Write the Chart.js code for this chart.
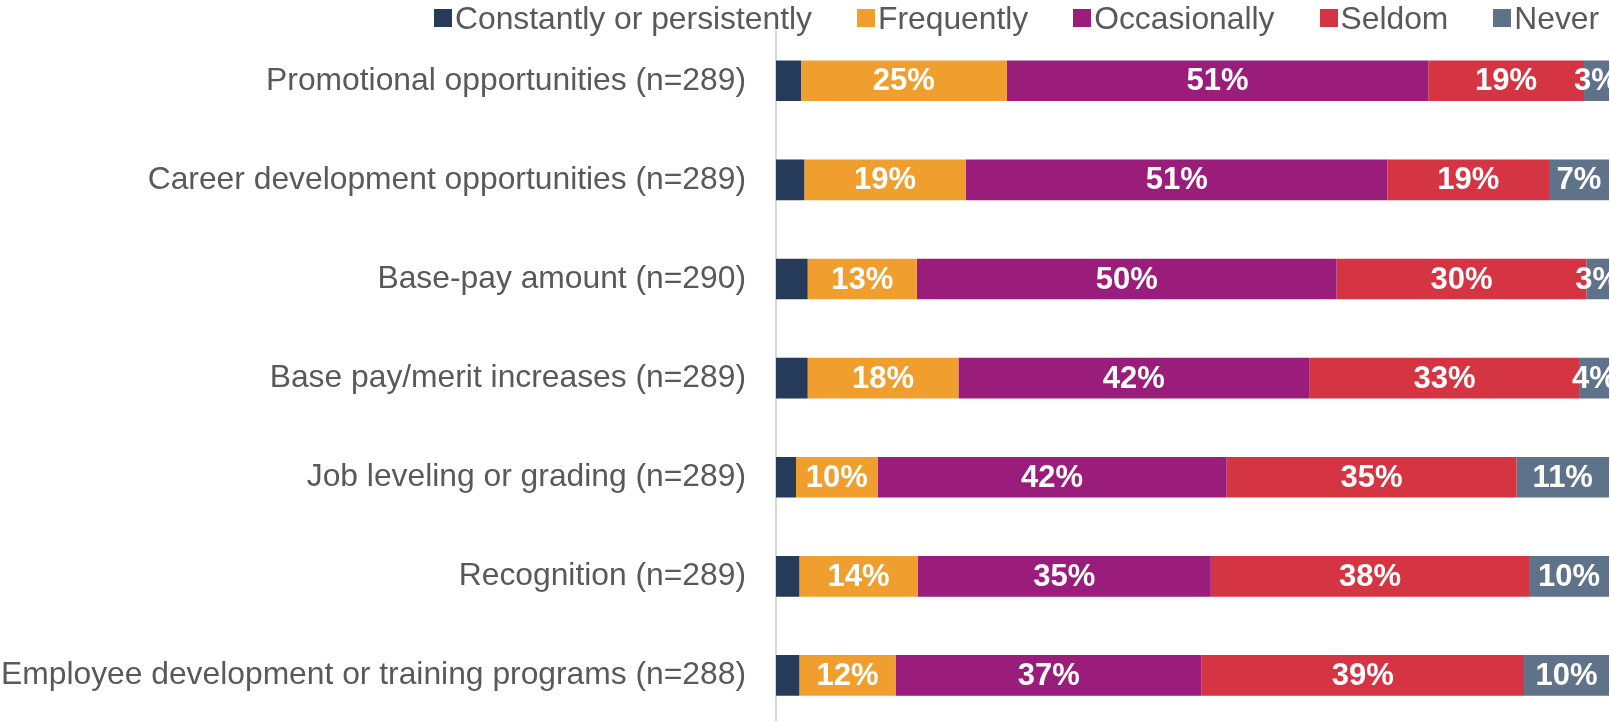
<!DOCTYPE html>
<html>
<head>
<meta charset="utf-8">
<script src="https://cdn.jsdelivr.net/npm/chart.js@4"></script>
<style>
  html, body { margin: 0; padding: 0; background: #fff; overflow: hidden; }
  #wrap { position: relative; width: 1636px; height: 725px; }
  #legend { position: absolute; left: 434px; top: -2px; height: 40px; margin: 0; padding: 0;
            list-style: none; display: flex; white-space: nowrap;
            font-family: 'Liberation Sans', Arial, sans-serif; font-size: 31.8px; color: #595959; }
  #legend li { display: flex; align-items: center; margin-right: 45px; line-height: 40px; }
  #legend .box { display: inline-block; width: 18px; height: 18px; margin-right: 3px; }
</style>
</head>
<body>
<div id="wrap">
  <ul id="legend"></ul>
  <canvas id="chart"></canvas>
</div>
<script>
(function(Chart){

    // categories (top to bottom)
    var categories = [
        'Promotional opportunities (n=289)',
        'Career development opportunities (n=289)',
        'Base-pay amount (n=290)',
        'Base pay/merit increases (n=289)',
        'Job leveling or grading (n=289)',
        'Recognition (n=289)',
        'Employee development or training programs (n=288)'
    ];

    var seriesNames = ['Constantly or persistently', 'Frequently', 'Occasionally', 'Seldom', 'Never'];

    // percentages
    var constantly   = [3.0, 3.4, 3.8, 3.8, 2.4, 2.8, 2.8];
    var frequently   = [24.7, 19.4, 13.1, 18.1, 9.8, 14.2, 11.6];
    var occasionally = [50.6, 50.6, 50.4, 42.1, 41.9, 35.2, 36.7];
    var seldom       = [18.7, 19.4, 30.0, 32.5, 34.8, 38.2, 38.7];
    var never        = [3.0, 7.2, 2.7, 3.5, 11.1, 9.6, 10.2];

    var colors = ['#253b59', '#f09e2e', '#9b1d7b', '#d53442', '#5e7389'];
    var seriesValues = [constantly, frequently, occasionally, seldom, never];

    var font = "'Liberation Sans', Arial, sans-serif";

    // html legend built from the chart's own legend items
    var htmlLegend = {
        id: 'htmlLegend',
        afterUpdate: function(chart) {
            var ul = document.getElementById('legend');
            ul.innerHTML = '';
            var items = chart.options.plugins.legend.labels.generateLabels(chart);
            items.forEach(function(item) {
                var li = document.createElement('li');
                var box = document.createElement('span');
                box.className = 'box';
                box.style.background = item.fillStyle;
                li.appendChild(box);
                li.appendChild(document.createTextNode(item.text));
                ul.appendChild(li);
            });
        }
    };

    // white % labels in the middle of each segment (not for the first series)
    var segmentLabels = {
        id: 'segmentLabels',
        afterDatasetsDraw: function(chart) {
            var ctx = chart.ctx;
            ctx.save();
            ctx.font = 'bold 31px ' + font;
            ctx.fillStyle = '#ffffff';
            ctx.textAlign = 'center';
            ctx.textBaseline = 'middle';
            chart.data.datasets.forEach(function(ds, i) {
                if (i === 0) return;
                chart.getDatasetMeta(i).data.forEach(function(bar, j) {
                    var c = bar.getCenterPoint();
                    ctx.fillText(Math.round(ds.data[j]) + '%', c.x, c.y + 1);
                });
            });
            ctx.restore();
        }
    };

    var ctx = document.getElementById('chart').getContext('2d');

    var chart = new Chart(ctx, {
        type: 'bar',
        data: {
            labels: categories,
            datasets: seriesNames.map(function(name, i) {
                return {
                    label: name,
                    data: seriesValues[i],
                    backgroundColor: colors[i],
                    borderWidth: 0,
                    categoryPercentage: 1,
                    barPercentage: 0.41
                };
            })
        },
        options: {
            indexAxis: 'y',
            responsive: true,
            maintainAspectRatio: false,
            animation: false,
            layout: {
                padding: { top: 31.2, right: 27, bottom: 0, left: 0 }
            },
            plugins: {
                tooltip: { enabled: false },
                legend: { display: false }
            },
            scales: {
                x: {
                    stacked: true,
                    display: false,
                    min: 0,
                    max: 100
                },
                y: {
                    stacked: true,
                    grid: { display: false, drawTicks: false },
                    border: { display: true, color: '#d9d9d9', width: 2 },
                    ticks: {
                        color: '#595959',
                        padding: 30,
                        font: { family: font, size: 31.8 }
                    },
                    afterFit: function(scale) {
                        scale.width = 776;
                        // labels sit mid-category, no extra room needed above/below
                        scale.paddingTop = 0;
                        scale.paddingBottom = 0;
                    }
                }
            }
        },
        plugins: [htmlLegend, segmentLabels]
    });

})(Chart);
</script>
</body>
</html>
